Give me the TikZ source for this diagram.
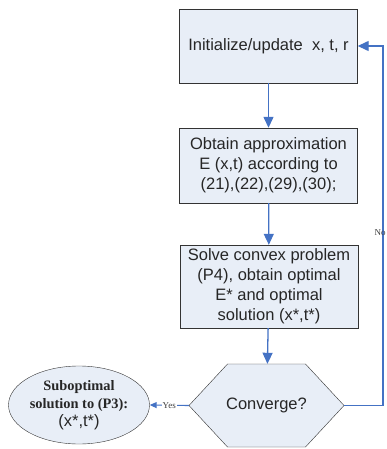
\documentclass[tikz,border=0pt]{standalone}
\usepackage{fontspec}
\setmainfont{Liberation Sans}
\newfontfamily\timesfont{Liberation Serif}
\usetikzlibrary{arrows.meta,calc,shapes.geometric}
\definecolor{boxfill}{RGB}{232,238,247}
\definecolor{flowblue}{RGB}{68,114,196}
\newcommand\boxfont{\fontsize{16.5}{20}\selectfont}
\newcommand\subfont{\timesfont\bfseries\fontsize{14.4}{18}\selectfont}
\tikzset{
  procbox/.style={draw=black!80,fill=boxfill,minimum width=178pt,inner sep=0pt,
    align=center,font=\boxfont,text=black!85},
  flow/.style={draw=flowblue,line width=1.3pt,-{Triangle[length=11pt,width=10pt]}},
  smallflow/.style={draw=flowblue,line width=1.1pt,-{Triangle[length=7pt,width=6pt]}},
  lbl/.style={font=\timesfont\fontsize{9}{10}\selectfont,text=black!75,inner sep=1pt}
}
\begin{document}
\begin{tikzpicture}[x=1pt,y=-1pt]
  \useasboundingbox (0,0) rectangle (386,449);
  % boxes
  \node[procbox,minimum height=74pt] (init) at (268.5,46) {Initialize/update\ \ x, t, r};
  \node[procbox,minimum height=75pt] (approx) at (268.5,165.5)
    {Obtain approximation\\E (x,t) according to\\(21),(22),(29),(30);};
  \node[procbox,minimum height=83pt] (solve) at (269,286.5)
    {Solve convex problem\\(P4), obtain optimal\\E* and optimal\\solution (x*,t*)};
  % decision
  \coordinate (c) at (266.5,405.5);
  \draw[draw=black!80,fill=boxfill] ($(c)+(-77.5,0)$) -- ($(c)+(-39,-41.5)$) -- ($(c)+(39,-41.5)$)
    -- ($(c)+(77.5,0)$) -- ($(c)+(39,41.5)$) -- ($(c)+(-39,41.5)$) -- cycle;
  \node[minimum width=155pt,minimum height=83pt,inner sep=0pt,font=\boxfont,text=black!85] (conv) at (c) {Converge?};
  \node[ellipse,draw=black!80,fill=boxfill,minimum width=141pt,minimum height=78pt,inner sep=0pt,
    align=center,font=\fontsize{16.5}{18}\selectfont,text=black!85] (subopt) at (79,405)
    {{\subfont Suboptimal}\\{\subfont solution to (P3):}\\(x*,t*)};
  % arrows
  \draw[flow] (init) -- (approx);
  \draw[flow] (approx) -- (solve);
  \draw[flow] (solve) -- (conv);
  \draw[smallflow] (conv.west) -- node[lbl,fill=white]{Yes} (subopt.east);
  \coordinate (turn) at (383,405.5);
  \coordinate (corner) at (383,46);
  \draw[flow] (conv.east) -- (turn) -- node[lbl,pos=0.48,xshift=-3pt]{No} (corner) -- (init.east);
\end{tikzpicture}
\end{document}
